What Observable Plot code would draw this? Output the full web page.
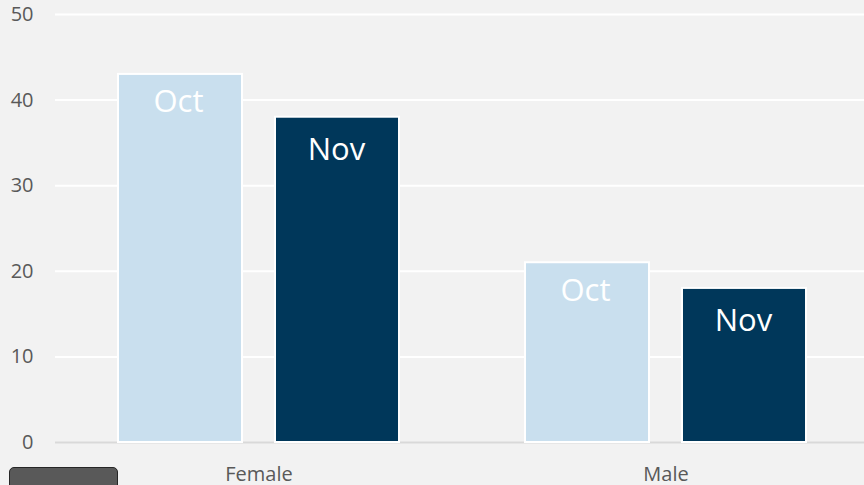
<!DOCTYPE html>
<html>
<head>
<meta charset="utf-8">
<script src="https://cdn.jsdelivr.net/npm/d3@7"></script>
<script src="https://cdn.jsdelivr.net/npm/@observablehq/plot@0.6"></script>
<style>
  html, body { margin: 0; padding: 0; background: #f2f2f2; overflow: hidden; }
  #wrap { position: relative; width: 864px; height: 485px; }
  #box { position: absolute; left: 9px; top: 467px; width: 107px; height: 30px;
         background: #595959; border: 1.5px solid #262626; border-radius: 5px; }
</style>
</head>
<body>
<div id="wrap"><div id="chart"></div><div id="box"></div></div>
<script>
const genders = ["Female", "Male"];
const months = ["Oct", "Nov"];
const octValues = [43, 21];
const novValues = [38, 18];
const yTicks = [0, 10, 20, 30, 40, 50];
const monthColors = ["#c9dfee", "#00375a"];

const data = genders.flatMap((g, i) => [
  {gender: g, month: "Oct", value: octValues[i]},
  {gender: g, month: "Nov", value: novValues[i]}
]);

const labelOpts = {fx: "gender", x: "month", y: "value", text: "month", fill: "white",
  lineAnchor: "top", fontSize: 31};

const chart = Plot.plot({
  width: 864,
  height: 485,
  marginLeft: 55,
  marginRight: -5,
  marginTop: 14,
  marginBottom: 43,
  style: {background: "#f2f2f2", fontFamily: "'Open Sans', sans-serif", fontSize: "20px", color: "#595959"},
  fx: {domain: genders, padding: 0, label: null},
  x: {domain: months, paddingInner: 0.209, paddingOuter: 0.3925, axis: null},
  y: {domain: [0, 50], label: null, axis: null},
  color: {domain: months, range: monthColors},
  marks: [
    Plot.gridY(yTicks.filter(d => d > 0), {stroke: "white", strokeOpacity: 1, strokeWidth: 2}),
    Plot.ruleY([0], {stroke: "#d9d9d9", strokeWidth: 2}),
    Plot.axisY(yTicks, {tickSize: 0, tickPadding: 22, label: null}),
    Plot.axisFx({anchor: "bottom", tickSize: 0, tickPadding: 24, label: null}),
    Plot.barY(data, {fx: "gender", x: "month", y: "value", fill: "month", stroke: "white", strokeWidth: 2}),
    Plot.text(data.filter(d => d.month === "Oct"), {...labelOpts, dy: 16, dx: -2}),
    Plot.text(data.filter(d => d.month === "Nov"), {...labelOpts, dy: 21, dx: -1})
  ]
});
document.getElementById("chart").appendChild(chart);
</script>
</body>
</html>
